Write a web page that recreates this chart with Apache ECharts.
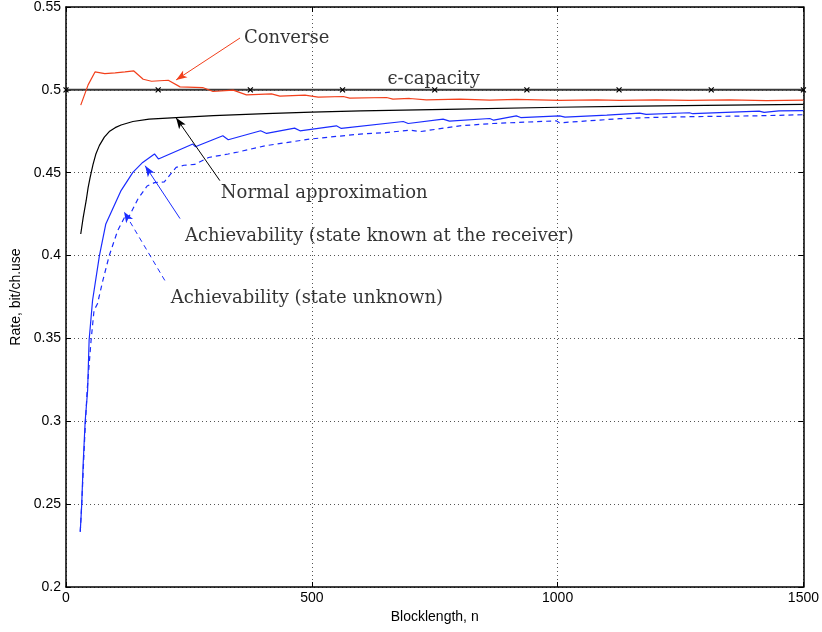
<!DOCTYPE html>
<html>
<head>
<meta charset="utf-8">
<script src="https://cdn.jsdelivr.net/npm/echarts@6/dist/echarts.min.js"></script>
<style>html,body{margin:0;padding:0;background:#fff}#c{width:822px;height:632px}</style>
</head>
<body>
<div id="c"></div>
<script>
// ---- data ----
const converseN = [30,45,59,79,100,120,138,157,174,208,232,278,299,340,367,418,435,486,513,564,577,652,665,699,733,801,862,916,1004,1080,1126,1200,1268,1350,1425,1500];
const converseR = [0.4908,0.5030,0.5108,0.5098,0.5102,0.5108,0.5114,0.5064,0.5052,0.5058,0.5018,0.5014,0.4990,0.4998,0.4970,0.4976,0.4962,0.4968,0.4956,0.4960,0.4950,0.4954,0.4944,0.4948,0.4940,0.4944,0.4938,0.4942,0.4936,0.4940,0.4936,0.4940,0.4936,0.4939,0.4935,0.4938];

const normalN = [30,35,41,45,49,55,61,68,78,88,100,112,136,169,224,300,406,500,600,801,1000,1126,1300,1500];
const normalR = [0.413,0.423,0.4331,0.441,0.447,0.455,0.4615,0.4665,0.4715,0.4748,0.4772,0.4788,0.4809,0.4823,0.4833,0.4845,0.4857,0.4866,0.4873,0.4884,0.4895,0.4900,0.4906,0.4912];

const knownN = [29,32,35,39,44,47,54,68,81,112,136,156,180,188,258,263,319,330,396,408,465,476,550,560,686,696,767,780,862,870,916,925,1004,1015,1100,1167,1180,1268,1275,1410,1420,1450,1500];
const knownR = [0.2333,0.25,0.275,0.30,0.3187,0.3488,0.3729,0.40,0.4191,0.4392,0.4502,0.4562,0.4613,0.4583,0.4673,0.4657,0.4723,0.4699,0.4753,0.4737,0.4769,0.4753,0.4783,0.4767,0.4809,0.4797,0.4823,0.4811,0.4827,0.4817,0.4843,0.4833,0.4843,0.4835,0.4848,0.4860,0.4852,0.4862,0.4856,0.4872,0.4864,0.4873,0.4875];

const unknownN = [29,32,38,43,51,57,64,75,88,105,122,128,146,165,180,200,224,240,262,290,330,350,406,496,598,650,699,720,801,868,997,1004,1126,1187,1268,1400,1500];
const unknownR = [0.2333,0.25,0.29,0.3187,0.3488,0.3669,0.3709,0.385,0.40,0.415,0.4247,0.4235,0.4340,0.4420,0.4440,0.4445,0.4532,0.4545,0.4550,0.4592,0.4613,0.4625,0.4663,0.4703,0.4733,0.4742,0.4757,0.4748,0.4783,0.4797,0.4813,0.4801,0.4826,0.4833,0.4838,0.4843,0.4850];

const capacityN = [0,187.5,375,562.5,750,937.5,1125,1312.5,1500];
const capacityR = 0.5;

const xTicks = [0,500,1000,1500];
const yTicks = [0.2,0.25,0.3,0.35,0.4,0.45,0.5,0.55];

// annotations: [text, textLeftN, textY, arrowFromN, arrowFromY, arrowToN, arrowToY]
const annConverse = ['Converse', 362, 0.5313, 354, 0.5313, 224, 0.5060];
const annNormal = ['Normal approximation', 315, 0.4373, 313, 0.4452, 224, 0.4831];
const annKnown = ['Achievability (state known at the receiver)', 242, 0.4114, 232, 0.4223, 161, 0.4542];
const annUnknown = ['Achievability (state unknown)', 213, 0.3741, 201, 0.3850, 118, 0.4265];
const annCapacity = ['\u03f5-capacity', 748, 0.5066];

const RED = '#f2401c', BLUE = '#1a2cff';
const zip = (a, b) => a.map((v, i) => [v, b[i]]);
const serif = 'DejaVu Serif';

function arrow(ann, color, type) {
  return {
    silent: true, animation: false,
    symbol: ['none', 'arrow'], symbolSize: [6, 11],
    label: { show: false },
    lineStyle: { color: color, width: 1, type: type },
    data: [[{ coord: [ann[3], ann[4]] }, { coord: [ann[5], ann[6]] }]]
  };
}
function textItem(ann, pos) {
  return { value: [ann[1], ann[2]], name: ann[0], label: { position: pos || 'right' } };
}

const chart = echarts.init(document.getElementById('c'), null, { renderer: 'canvas' });
const axisCommon = {
  axisLine: { show: true, onZero: false, lineStyle: { color: '#000', width: 1.5 } },
  axisTick: { show: true, inside: true, length: 5, lineStyle: { color: '#000', width: 1 } },
  splitLine: { show: false }
};
chart.setOption({
  animation: false,
  backgroundColor: '#fff',
  grid: { left: 66, right: 18, top: 6, bottom: 45, containLabel: false },
  xAxis: [
    Object.assign({}, axisCommon, {
      type: 'value', min: 0, max: 1500, interval: 500, position: 'bottom',
      name: 'Blocklength, n', nameLocation: 'middle', nameGap: 20,
      nameTextStyle: { fontFamily: 'Liberation Sans', fontSize: 14, color: '#000' },
      axisLabel: { fontFamily: 'Liberation Sans', fontSize: 14, color: '#000', margin: 4,
        formatter: v => xTicks.includes(v) ? String(v) : '' },
      splitLine: { show: true, lineStyle: { color: '#555', type: [1, 3], width: 1 } }
    }),
    Object.assign({}, axisCommon, {
      type: 'value', min: 0, max: 1500, interval: 500, position: 'top',
      axisLabel: { show: false }
    })
  ],
  yAxis: [
    Object.assign({}, axisCommon, {
      type: 'value', min: 0.2, max: 0.55, interval: 0.05, position: 'left',
      name: 'Rate, bit/ch.use', nameLocation: 'middle', nameGap: 42,
      nameTextStyle: { fontFamily: 'Liberation Sans', fontSize: 14, color: '#000' },
      axisLabel: { fontFamily: 'Liberation Sans', fontSize: 14, color: '#000', margin: 5,
        formatter: v => { const r = Math.round(v * 100) / 100; return yTicks.includes(r) ? String(r) : ''; } },
      splitLine: { show: true, lineStyle: { color: '#555', type: [1, 3], width: 1 } }
    }),
    Object.assign({}, axisCommon, {
      type: 'value', min: 0.2, max: 0.55, interval: 0.05, position: 'right',
      axisLabel: { show: false }
    })
  ],
  series: [
    {
      name: 'capacity', type: 'line', data: capacityN.map(n => [n, capacityR]),
      symbol: 'path://M0,0L10,10M10,0L0,10', symbolSize: 5, showSymbol: true,
      itemStyle: { color: 'rgba(0,0,0,0)', borderColor: '#000', borderWidth: 1.2 },
      lineStyle: { color: '#3a3a3a', width: 2 }, z: 3
    },
    {
      name: 'Converse', type: 'line', data: zip(converseN, converseR), symbol: 'none',
      lineStyle: { color: RED, width: 1.2 }, markLine: arrow(annConverse, RED, 'solid'), z: 4
    },
    {
      name: 'Normal', type: 'line', data: zip(normalN, normalR), symbol: 'none',
      lineStyle: { color: '#000', width: 1.2 }, markLine: arrow(annNormal, '#000', 'solid'), z: 4
    },
    {
      name: 'Known', type: 'line', data: zip(knownN, knownR), symbol: 'none',
      lineStyle: { color: BLUE, width: 1.2 }, markLine: arrow(annKnown, BLUE, 'solid'), z: 4
    },
    {
      name: 'Unknown', type: 'line', data: zip(unknownN, unknownR), symbol: 'none',
      lineStyle: { color: BLUE, width: 1.2, type: [5, 4] }, markLine: arrow(annUnknown, BLUE, [5, 4]), z: 4
    },
    {
      name: 'labels', type: 'scatter', symbolSize: 0, silent: true, z: 6,
      label: { show: true, formatter: p => p.name, fontFamily: serif, fontSize: 18, color: '#000', distance: 0 },
      data: [textItem(annConverse), textItem(annNormal), textItem(annKnown), textItem(annUnknown),
             textItem(annCapacity, 'inside')]
    }
  ]
});
</script>
</body>
</html>
